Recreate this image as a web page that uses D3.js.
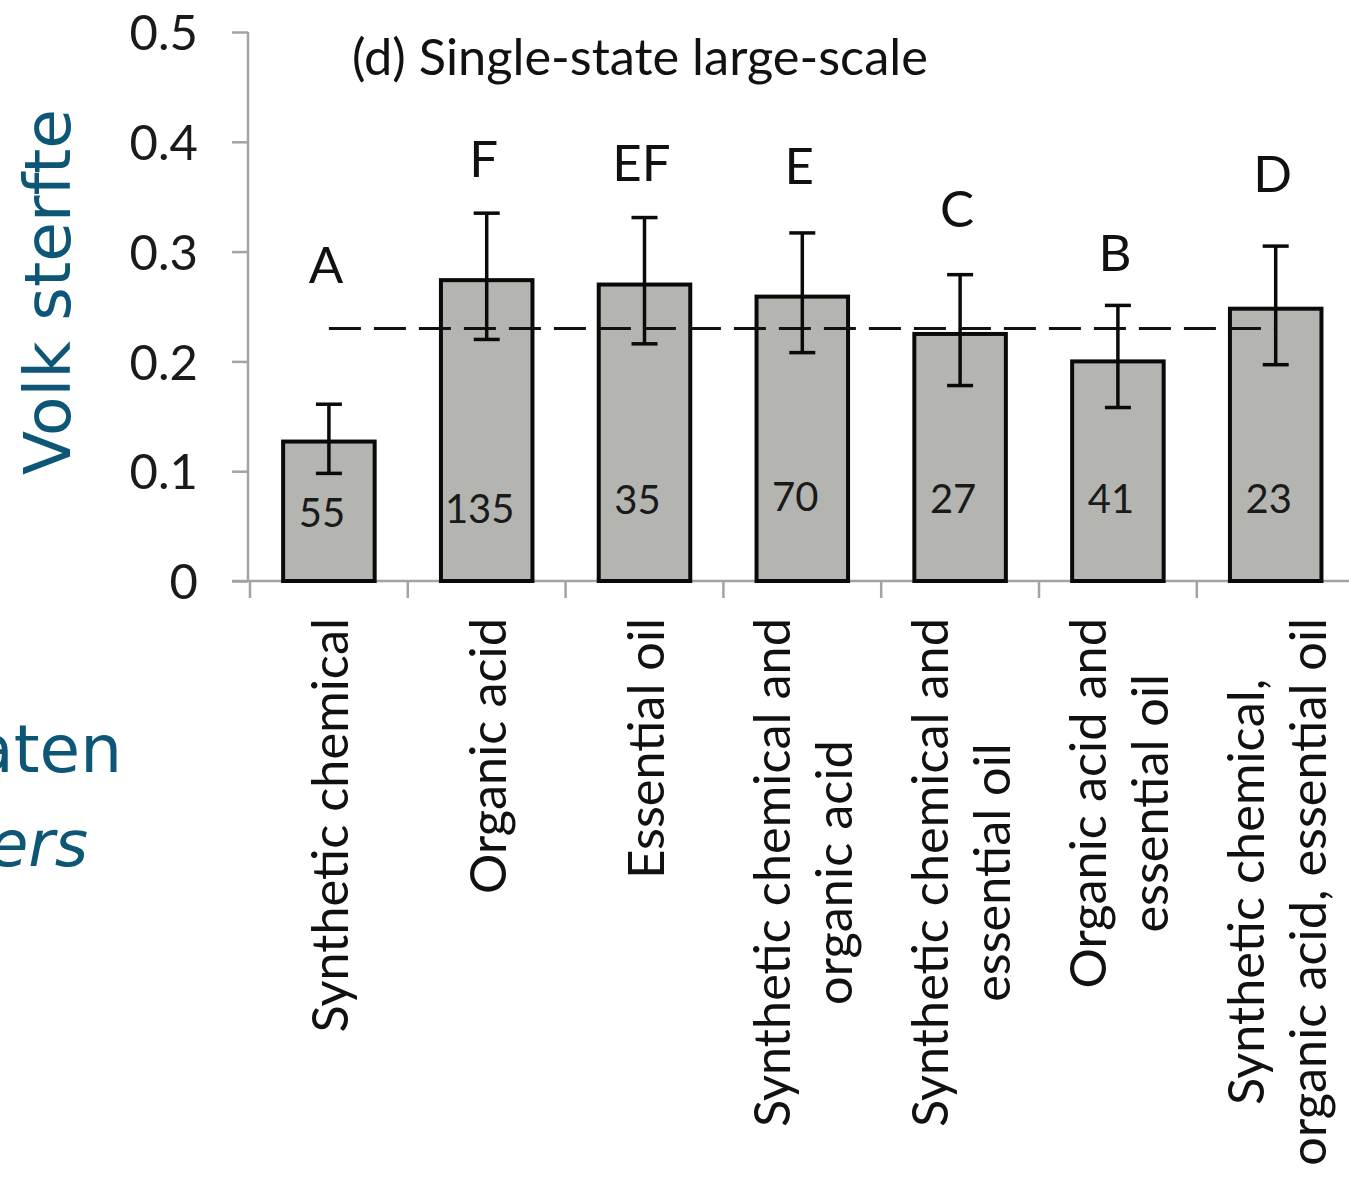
<!DOCTYPE html>
<html>
<head>
<meta charset="utf-8">
<script src="https://cdn.jsdelivr.net/npm/d3@7"></script>
<style>
  html, body { margin: 0; padding: 0; background: #ffffff; }
  svg { display: block; }
</style>
</head>
<body>
<script>
// ---- data ----
const categories = [
  ["Synthetic chemical"],
  ["Organic acid"],
  ["Essential oil"],
  ["Synthetic chemical and", "organic acid"],
  ["Synthetic chemical and", "essential oil"],
  ["Organic acid and", "essential oil"],
  ["Synthetic chemical,", "organic acid,  essential oil"]
];
const meanMortality = [0.127, 0.274, 0.270, 0.259, 0.225, 0.200, 0.248];
const errorUpper    = [0.161, 0.335, 0.331, 0.317, 0.279, 0.251, 0.305];
const errorLower    = [0.098, 0.220, 0.216, 0.208, 0.178, 0.158, 0.197];
const groupLetters  = ["A", "F", "EF", "E", "C", "B", "D"];
const letterLevel   = [0.271, 0.368, 0.364, 0.362, 0.322, 0.282, 0.354];
const sampleSizes   = ["55", "135", "35", "70", "27", "41", "23"];
const sampleLevel   = [0.049, 0.053, 0.061, 0.064, 0.062, 0.062, 0.062];
const referenceLine = 0.23;
const yTicks = [0, 0.1, 0.2, 0.3, 0.4, 0.5];
const yTickLabels = ["0", "0.1", "0.2", "0.3", "0.4", "0.5"];
const panelTitle = "(d) Single-state large-scale";
const yTitle = "Volk sterfte";

// ---- layout ----
const W = 1349, H = 1185;
const FONT = "Lato, 'Open Sans', sans-serif";
const svg = d3.select("body").append("svg").attr("width", W).attr("height", H);

const keys = categories.map(c => c.join(" "));
const x = d3.scaleBand().domain(keys).range([250, 250 + 7 * 157.8])
  .paddingInner(0.42).paddingOuter(0.21);
const y = d3.scaleLinear().domain([0, 0.5]).range([581, 32]);

const axisColor = "#a3a3a3";

// background slide texts (cut off on the left)
svg.append("text").attr("x", 122).attr("y", 772).attr("text-anchor", "end")
  .attr("font-family", "'DejaVu Sans', Verdana, sans-serif").attr("font-size", 66)
  .attr("fill", "#0d5675").text("aten");
svg.append("text").attr("x", 88).attr("y", 866).attr("text-anchor", "end")
  .attr("font-family", "'DejaVu Sans', Verdana, sans-serif").attr("font-style", "italic")
  .attr("font-size", 64).attr("fill", "#0d5675").text("ers");

// y title
svg.append("text")
  .attr("transform", "translate(70,292) rotate(-90)")
  .attr("text-anchor", "middle")
  .attr("font-family", "'DejaVu Sans', Verdana, sans-serif")
  .attr("font-size", 64.5).attr("fill", "#0d5675").text(yTitle);

// y axis
const yAxis = d3.axisLeft(y).tickValues(yTicks).tickSize(16).tickPadding(34)
  .tickFormat((d, i) => yTickLabels[i]);
const gy = svg.append("g").attr("transform", "translate(248,0)").call(yAxis);
gy.select(".domain").attr("stroke", axisColor).attr("stroke-width", 2.5)
  .attr("d", `M0,${y(0.5)}V${y(0)}`);
gy.selectAll(".tick line").attr("stroke", axisColor).attr("stroke-width", 2.5);
gy.selectAll(".tick text").attr("font-family", FONT).attr("font-size", 49)
  .attr("fill", "#1a1a1a").attr("dy", "0.36em");

// x axis line and ticks at category boundaries
const step = x.step();
const boundaries = d3.range(keys.length).map(i => x(keys[i]) - step * x.paddingInner() / 2);
svg.append("line").attr("x1", 232).attr("x2", W).attr("y1", y(0)).attr("y2", y(0))
  .attr("stroke", axisColor).attr("stroke-width", 2.5);
svg.append("g").selectAll("line").data(boundaries).join("line")
  .attr("x1", d => d).attr("x2", d => d)
  .attr("y1", y(0)).attr("y2", y(0) + 17)
  .attr("stroke", axisColor).attr("stroke-width", 2.5);

// bars
svg.append("g").selectAll("rect").data(meanMortality).join("rect")
  .attr("x", (d, i) => x(keys[i]))
  .attr("y", d => y(d))
  .attr("width", x.bandwidth())
  .attr("height", d => y(0) - y(d))
  .attr("fill", "#b4b4b0")
  .attr("stroke", "#0a0a0a").attr("stroke-width", 4);

// reference dashed line
const cx = i => x(keys[i]) + x.bandwidth() / 2;
svg.append("line")
  .attr("x1", cx(0)).attr("x2", cx(keys.length - 1))
  .attr("y1", y(referenceLine)).attr("y2", y(referenceLine))
  .attr("stroke", "#111").attr("stroke-width", 3).attr("stroke-dasharray", "32,13");

// error bars
const eb = svg.append("g").attr("stroke", "#0a0a0a").attr("stroke-width", 3.5);
meanMortality.forEach((m, i) => {
  eb.append("line").attr("x1", cx(i)).attr("x2", cx(i))
    .attr("y1", y(errorUpper[i])).attr("y2", y(errorLower[i]));
  [errorUpper[i], errorLower[i]].forEach(v => {
    eb.append("line").attr("x1", cx(i) - 13).attr("x2", cx(i) + 13)
      .attr("y1", y(v)).attr("y2", y(v));
  });
});

// group letters
svg.append("g").selectAll("text").data(groupLetters).join("text")
  .attr("x", (d, i) => cx(i) - 3).attr("y", (d, i) => y(letterLevel[i]))
  .attr("text-anchor", "middle").attr("font-family", FONT).attr("font-size", 51)
  .attr("fill", "#111").text(d => d);

// sample sizes
svg.append("g").selectAll("text").data(sampleSizes).join("text")
  .attr("x", (d, i) => cx(i) - 7).attr("y", (d, i) => y(sampleLevel[i]))
  .attr("text-anchor", "middle").attr("font-family", FONT).attr("font-size", 40)
  .attr("fill", "#1a1a1a").text(d => d);

// panel title
svg.append("text").attr("x", 352).attr("y", 75)
  .attr("font-family", FONT).attr("font-size", 50.5).attr("fill", "#111").text(panelTitle);

// category labels (rotated, lines centered, block aligned to top)
const lineGap = 62;
const labelTop = 618;
categories.forEach((lines, i) => {
  const g = svg.append("g");
  const texts = lines.map((ln, j) => g.append("text")
    .attr("font-family", FONT).attr("font-size", 50.5).attr("fill", "#111")
    .attr("text-anchor", "middle").text(ln));
  const maxW = d3.max(texts, t => t.node().getComputedTextLength());
  const n = lines.length;
  texts.forEach((t, j) => {
    const bx = cx(i) + 19 + (j - (n - 1) / 2) * lineGap;
    const by = labelTop + maxW / 2;
    t.attr("transform", `translate(${bx},${by}) rotate(-90)`);
  });
});
</script>
</body>
</html>
